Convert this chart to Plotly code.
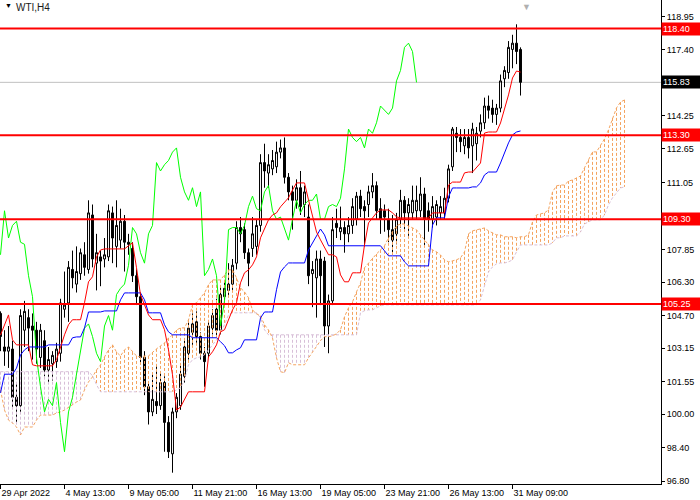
import plotly.graph_objects as go

# WTI H4 with Ichimoku (bar index = H4 bar number)

tick_bars = [0, 16, 32, 48, 64, 80, 96, 112, 128]
tick_text = ["29 Apr 2022", "4 May 13:00", "9 May 05:00", "11 May 21:00", "16 May 13:00",
             "19 May 05:00", "23 May 21:00", "26 May 13:00", "31 May 09:00"]

price_ticks = [118.95, 117.40, 114.25, 112.65, 111.05, 107.85, 106.30,
               104.70, 103.15, 101.55, 100.00, 98.40, 96.80]

levels = [118.40, 113.30, 109.30, 105.25]
last_price = 115.83

opens = [104.8, 103.2, 103.0, 103.1, 100.8, 100.4, 104.0, 104.6, 104.2, 104.0,
         102.7, 103.5, 102.1, 102.4, 102.5, 102.9, 105.0, 105.3, 106.9, 106.2,
         106.7, 107.6, 106.9, 109.5, 107.2, 107.5, 107.4, 107.5, 109.6, 108.0,
         108.3, 109.2, 108.2, 107.9, 106.6, 105.6, 102.7, 101.3, 100.1, 100.6,
         100.4, 101.5, 99.6, 98.1, 100.1, 100.4, 101.8, 102.9, 103.9, 104.4,
         103.7, 102.9, 102.9, 104.1, 105.0, 104.0, 105.6, 105.9, 106.2, 107.2,
         108.9, 108.8, 107.7, 107.9, 108.0, 109.0, 112.0, 111.5, 111.7, 111.8,
         112.5, 112.7, 111.3, 110.6, 110.2, 110.8, 110.0, 109.4, 106.7, 106.5,
         107.4, 107.3, 104.2, 105.4, 109.1, 108.7, 108.9, 108.6, 109.0, 109.3,
         110.4, 109.9, 110.0, 110.6, 110.9, 109.8, 109.7, 109.3, 108.8, 108.6,
         109.3, 110.2, 109.6, 109.6, 109.7, 109.7, 110.5, 109.7, 109.3, 109.4,
         109.6, 109.6, 110.3, 111.8, 113.4, 113.2, 112.8, 113.2, 112.8, 112.9,
         113.5, 113.9, 114.7, 114.6, 114.3, 114.6, 116.0, 116.3, 117.4, 117.7,
         117.4]
highs = [104.9, 104.0, 104.2, 103.5, 101.5, 105.0, 105.4, 105.0, 104.8, 104.4,
         104.3, 104.0, 103.2, 103.0, 103.4, 105.5, 106.8, 107.3, 107.8, 108.0,
         107.9, 108.2, 110.2, 110.0, 108.6, 107.8, 108.4, 110.0, 109.9, 110.2,
         109.8, 109.5, 108.6, 108.2, 106.9, 105.8, 103.0, 101.5, 102.0, 102.3,
         102.0, 101.8, 99.9, 100.3, 101.0, 102.3, 103.5, 104.5, 104.8, 104.9,
         103.9, 103.2, 104.4, 105.0, 105.5, 106.1, 106.4, 107.2, 107.4, 109.2,
         109.4, 109.1, 107.9, 109.4, 109.3, 112.4, 112.9, 112.4, 112.6, 113.0,
         113.1, 113.2, 111.5, 110.9, 111.2, 111.6, 110.9, 110.0, 107.3, 107.8,
         107.8, 107.5, 105.7, 109.4, 109.8, 109.9, 109.2, 109.4, 110.3, 110.6,
         110.7, 110.2, 110.9, 111.5, 111.1, 110.3, 110.0, 109.8, 109.5, 109.6,
         110.7, 110.4, 110.3, 110.9, 110.9, 111.3, 110.8, 110.1, 110.4, 110.2,
         110.4, 110.8, 111.9, 113.7, 113.7, 113.6, 113.6, 113.6, 113.9, 113.7,
         114.3, 115.1, 115.2, 115.0, 114.8, 116.2, 116.6, 117.8, 118.1, 118.6,
         117.5]
lows = [103.0, 102.3, 102.2, 100.3, 99.6, 100.1, 103.2, 103.0, 102.6, 102.4,
        102.2, 101.8, 101.5, 101.6, 102.2, 102.5, 104.6, 104.4, 106.0, 105.8,
        106.4, 106.6, 106.7, 107.0, 105.9, 106.1, 107.0, 107.3, 107.2, 107.0,
        107.9, 106.8, 107.6, 106.3, 105.2, 102.4, 100.9, 99.5, 99.9, 100.0,
        100.2, 98.2, 97.9, 97.2, 99.8, 100.2, 101.5, 102.6, 103.3, 103.4,
        102.6, 101.3, 102.7, 103.8, 103.7, 103.8, 105.3, 105.6, 105.9, 106.9,
        108.2, 107.4, 106.1, 107.5, 107.6, 108.7, 110.8, 110.8, 111.4, 111.5,
        112.2, 111.0, 110.2, 108.8, 109.8, 109.5, 109.4, 106.2, 105.1, 104.6,
        105.2, 103.2, 102.9, 105.2, 108.4, 108.3, 107.7, 108.2, 108.6, 109.0,
        109.4, 108.0, 109.4, 110.3, 109.3, 108.6, 108.7, 108.2, 107.6, 108.1,
        108.9, 108.8, 108.5, 109.3, 109.3, 109.4, 108.0, 108.7, 108.9, 109.0,
        109.3, 109.3, 110.1, 111.6, 112.5, 112.5, 112.4, 112.2, 111.5, 112.1,
        113.2, 113.6, 114.1, 113.9, 113.8, 114.4, 115.6, 116.0, 116.5, 116.7,
        115.2]
closes = [103.7, 103.0, 103.2, 100.8, 100.4, 104.7, 104.9, 104.1, 104.0, 103.1,
          104.0, 102.1, 102.6, 102.8, 103.1, 105.3, 105.2, 107.0, 106.5, 106.8,
          107.7, 107.0, 109.6, 107.4, 107.7, 107.3, 107.6, 109.7, 108.4, 109.0,
          109.2, 108.2, 108.1, 106.6, 105.6, 102.7, 101.3, 100.1, 100.7, 100.4,
          101.5, 99.6, 98.2, 100.1, 100.8, 101.9, 103.2, 104.1, 104.3, 103.7,
          102.9, 102.5, 104.2, 104.7, 104.0, 105.7, 106.0, 106.2, 107.1, 108.9,
          108.6, 107.7, 107.2, 108.6, 109.0, 112.0, 111.6, 111.9, 112.1, 112.5,
          112.7, 111.3, 110.6, 110.2, 110.8, 109.9, 110.6, 106.6, 106.9, 107.4,
          106.6, 104.2, 105.4, 108.8, 108.9, 108.9, 108.6, 109.0, 109.9, 110.4,
          109.8, 109.7, 110.6, 110.9, 109.7, 109.3, 109.4, 108.8, 108.3, 109.3,
          110.2, 109.6, 110.0, 110.2, 110.2, 110.5, 109.3, 109.3, 109.9, 110.0,
          109.9, 110.3, 111.7, 113.6, 113.2, 113.0, 113.2, 112.7, 113.6, 113.4,
          113.9, 114.7, 114.5, 114.3, 114.6, 115.9, 116.4, 117.5, 117.7, 117.3,
          115.83]

# Tenkan-sen (red) and Kijun-sen (blue), one value per bar
tenkan = [103.77, 104.25, 104.73, 103.54, 103.3, 103.3, 103.3, 103.3, 102.35, 102.3,
          102.3, 102.3, 102.3, 102.3, 102.59, 103.21, 103.78, 104.26, 104.5, 104.5,
          104.5, 105.31, 106.31, 106.55, 107.5, 107.83, 107.88, 107.88, 107.88, 107.88,
          107.88, 107.88, 108.03, 108.17, 106.98, 105.69, 105.21, 104.73, 104.5, 104.5,
          104.5, 104.02, 103.06, 101.87, 100.19, 100.33, 100.67, 101.06, 101.06, 101.06,
          101.06, 101.06, 102.73, 102.97, 103.3, 103.92, 104.02, 104.49, 104.97, 105.31,
          106.26, 106.74, 106.88, 107.12, 107.5, 108.41, 108.83, 109.27, 109.5, 109.6,
          109.89, 110.08, 110.32, 110.69, 111.03, 111.03, 111.03, 110.22, 109.5, 108.69,
          108.31, 107.98, 107.6, 107.6, 107.5, 106.64, 106.31, 106.31, 106.74, 106.74,
          106.74, 108.07, 109.12, 109.36, 109.6, 109.74, 109.74, 109.74, 109.6, 109.41,
          109.36, 109.36, 109.36, 109.36, 109.36, 109.36, 109.36, 109.36, 109.6, 109.6,
          109.6, 109.6, 110.93, 111.07, 111.07, 111.07, 111.51, 111.55, 111.55, 111.74,
          111.98, 113.41, 113.46, 113.46, 113.46, 113.89, 114.51, 115.23, 116.04, 116.37,
          116.32]
kijun = [101.01, 101.9, 101.9, 101.9, 102.19, 102.82, 103.06, 103.2, 103.2, 103.2,
         103.2, 103.2, 103.3, 103.3, 103.3, 103.3, 103.3, 103.3, 103.64, 103.68,
         103.68, 104.11, 104.87, 104.87, 104.87, 104.87, 104.92, 104.92, 104.92, 104.92,
         105.45, 105.78, 105.78, 105.78, 105.78, 105.78, 105.45, 104.83, 104.83, 104.83,
         104.83, 104.26, 103.92, 103.78, 103.78, 103.78, 103.78, 103.78, 103.64, 103.64,
         103.64, 103.64, 103.64, 103.64, 103.64, 103.45, 103.26, 102.92, 102.92, 103.06,
         103.16, 103.54, 103.54, 103.54, 103.54, 104.59, 104.87, 104.87, 104.87, 105.93,
         106.78, 107.02, 107.21, 107.21, 107.21, 107.21, 107.21, 107.83, 108.17, 108.45,
         108.83, 108.55, 108.03, 108.03, 108.03, 108.03, 108.03, 108.03, 108.03, 108.03,
         108.03, 108.03, 108.03, 108.03, 108.03, 108.03, 107.79, 107.55, 107.55, 107.55,
         107.55, 107.26, 107.07, 107.07, 107.07, 107.07, 107.07, 107.07, 109.02, 109.36,
         109.36, 109.36, 110.36, 110.79, 110.79, 110.79, 110.79, 110.79, 110.84, 110.84,
         111.03, 111.41, 111.55, 111.55, 111.55, 111.98, 112.51, 112.94, 113.32, 113.46,
         113.51]

# Senkou span A and B, bars 0..156 (cloud runs 26 bars past the last candle)
span_a = [101.15, 100.19, 99.71, 99.57, 99.38, 99.0, 99.38, 99.38, 99.38, 99.71,
          99.95, 99.95, 99.95, 99.95, 100.05, 100.1, 100.19, 100.33, 100.43, 100.57,
          100.67, 101.15, 101.53, 101.77, 102.1, 102.34, 102.72, 103.06, 103.3, 102.96,
          102.77, 103.06, 103.2, 102.96, 102.77, 102.72, 102.77, 102.77, 102.96, 103.11,
          103.25, 103.39, 103.63, 103.77, 104.01, 104.11, 104.11, 104.49, 105.21, 105.31,
          105.55, 105.78, 106.17, 106.4, 106.4, 106.4, 106.64, 106.88, 106.88, 106.5,
          106.02, 105.83, 105.55, 104.97, 104.78, 104.69, 104.26, 104.01, 103.63, 102.68,
          102.02, 101.97, 102.45, 102.35, 102.35, 102.35, 102.35, 102.68, 102.97, 103.26,
          103.5, 103.69, 103.69, 103.73, 103.83, 104.02, 104.64, 105.07, 105.35, 105.83,
          106.26, 106.98, 107.21, 107.45, 107.64, 107.83, 108.03, 108.41, 108.69, 108.98,
          109.07, 109.07, 108.98, 108.88, 108.79, 108.55, 108.31, 108.12, 107.83, 107.74,
          107.59, 107.36, 107.26, 107.31, 107.36, 107.45, 107.74, 108.6, 108.74, 108.79,
          108.84, 108.88, 108.74, 108.65, 108.55, 108.55, 108.46, 108.46, 108.46, 108.41,
          108.46, 108.46, 108.55, 109.17, 109.5, 109.55, 109.6, 109.74, 110.6, 110.89,
          110.93, 110.93, 111.12, 111.17, 111.27, 111.36, 111.75, 112.13, 112.51, 112.51,
          112.84, 113.13, 113.56, 114.13, 114.61, 114.89, 114.99]
span_b = [102.02, 102.02, 102.02, 102.02, 102.02, 102.02, 102.02, 102.02, 102.02, 102.02,
          102.02, 102.02, 102.02, 102.02, 102.02, 102.02, 102.02, 102.02, 102.02, 102.02,
          102.02, 102.02, 102.02, 101.83, 101.4, 101.06, 101.06, 101.06, 101.06, 101.06,
          101.06, 101.06, 101.06, 101.06, 101.06, 101.06, 101.06, 101.06, 101.06, 101.06,
          101.06, 101.06, 101.06, 101.06, 101.15, 101.25, 101.63, 102.35, 102.59, 102.68,
          102.73, 102.83, 103.06, 103.3, 103.54, 103.88, 104.26, 104.74, 104.83, 104.83,
          104.83, 104.83, 104.83, 104.83, 104.83, 104.59, 104.02, 103.78, 103.78, 103.78,
          103.78, 103.78, 103.78, 103.78, 103.78, 103.78, 103.78, 103.78, 103.78, 103.78,
          103.78, 103.78, 103.78, 103.78, 103.78, 103.78, 103.78, 103.78, 103.78, 103.78,
          104.83, 104.93, 104.97, 104.97, 105.07, 105.16, 105.21, 105.21, 105.21, 105.21,
          105.21, 105.21, 105.21, 105.21, 105.21, 105.21, 105.21, 105.21, 105.21, 105.21,
          105.21, 105.21, 105.21, 105.21, 105.21, 105.21, 105.21, 105.21, 105.21, 105.21,
          105.45, 106.17, 106.78, 107.02, 107.17, 107.21, 107.21, 107.26, 107.36, 107.74,
          108.07, 108.07, 108.07, 108.07, 108.07, 108.07, 108.07, 108.07, 108.17, 108.41,
          108.41, 108.5, 108.5, 108.5, 108.5, 108.69, 109.07, 109.17, 109.27, 109.27,
          109.27, 109.5, 109.98, 110.32, 110.55, 110.79, 110.84]

bars = list(range(len(closes)))
cloud_bars = list(range(len(span_a)))
# chikou span = closes drawn 26 bars back
chikou_bars = bars[:len(closes) - 26]
chikou = closes[26:]

ORANGE = "#F4A460"
THISTLE = "#D8BFD8"
DOTS = "3px,2px"
FONT = "Liberation Sans, Arial, sans-serif"

fig = go.Figure()

fig.add_trace(go.Candlestick(
    x=bars, open=opens, high=highs, low=lows, close=closes,
    increasing=dict(line=dict(color="black", width=1), fillcolor="white"),
    decreasing=dict(line=dict(color="black", width=1), fillcolor="black"),
    whiskerwidth=0, hoverinfo="skip", showlegend=False,
))

# cloud hatching: one dotted vertical stroke per bar between the spans
up_x, up_y, dn_x, dn_y = [], [], [], []
for i, a, b in zip(cloud_bars, span_a, span_b):
    if a >= b:
        up_x += [i, i, None]
        up_y += [a, b, None]
    else:
        dn_x += [i, i, None]
        dn_y += [b, a, None]

fig.add_trace(go.Scatter(x=up_x, y=up_y, mode="lines", hoverinfo="skip", showlegend=False,
                         line=dict(color=ORANGE, width=1, dash=DOTS)))
fig.add_trace(go.Scatter(x=dn_x, y=dn_y, mode="lines", hoverinfo="skip", showlegend=False,
                         line=dict(color=THISTLE, width=1, dash=DOTS)))
fig.add_trace(go.Scatter(x=cloud_bars, y=span_b, mode="lines", hoverinfo="skip", showlegend=False,
                         line=dict(color=THISTLE, width=1, dash=DOTS)))
fig.add_trace(go.Scatter(x=cloud_bars, y=span_a, mode="lines", hoverinfo="skip", showlegend=False,
                         line=dict(color=ORANGE, width=1, dash=DOTS)))

fig.add_trace(go.Scatter(x=chikou_bars, y=chikou, mode="lines", hoverinfo="skip", showlegend=False,
                         line=dict(color="#00FF00", width=1)))
fig.add_trace(go.Scatter(x=bars, y=kijun, mode="lines", hoverinfo="skip", showlegend=False,
                         line=dict(color="#0000FF", width=1)))
fig.add_trace(go.Scatter(x=bars, y=tenkan, mode="lines", hoverinfo="skip", showlegend=False,
                         line=dict(color="#FF0000", width=1)))

# current bid line and the horizontal levels
fig.add_hline(y=last_price, line=dict(color="#C0C0C0", width=1), layer="below")
for lvl in levels:
    fig.add_hline(y=lvl, line=dict(color="#FF0000", width=2), layer="above")

# price tags on the right scale
for lvl in levels:
    fig.add_annotation(x=1, xref="paper", y=lvl, yref="y", xanchor="left", yanchor="middle",
                       text=f"{lvl:.2f}", showarrow=False, bgcolor="#FF0000", width=36, height=10,
                       align="left", borderpad=1, font=dict(family=FONT, size=9, color="white"))
fig.add_annotation(x=1, xref="paper", y=last_price, yref="y", xanchor="left", yanchor="middle",
                   text=f"{last_price:.2f}", showarrow=False, bgcolor="black", width=36, height=10,
                   align="left", borderpad=1, font=dict(family=FONT, size=9, color="white"))

# chart title and the shift marker
fig.add_annotation(x=0.004, xref="paper", y=0.999, yref="paper", xanchor="left", yanchor="top",
                   text="▼", showarrow=False, font=dict(family=FONT, size=7, color="black"))
fig.add_annotation(x=0.021, xref="paper", y=1.0, yref="paper", xanchor="left", yanchor="top",
                   text="WTI,H4", showarrow=False, font=dict(family=FONT, size=10, color="#1a1a1a"))
fig.add_annotation(x=131.5, xref="x", y=1.0, yref="paper", xanchor="center", yanchor="top",
                   text="▼", showarrow=False, font=dict(family=FONT, size=9, color="#B0B0B0"))

fig.update_layout(
    width=700, height=500,
    margin=dict(l=0, r=39, t=0, b=16),
    paper_bgcolor="white", plot_bgcolor="white",
    font=dict(family=FONT, size=9, color="black"),
    showlegend=False,
)
fig.update_xaxes(
    range=[-0.125, 165.125], rangeslider_visible=False,
    tickvals=tick_bars, ticktext=tick_text, ticklabelposition="outside right",
    ticks="outside", ticklen=4, tickcolor="black",
    showline=True, linecolor="black", linewidth=1,
    showgrid=False, zeroline=False, automargin=False,
)
fig.update_yaxes(
    range=[96.66, 119.76], side="right",
    tickvals=price_ticks, ticktext=[f"{p:.2f}" for p in price_ticks],
    ticks="outside", ticklen=3, tickcolor="black",
    showline=True, linecolor="black", linewidth=1,
    showgrid=False, zeroline=False, automargin=False,
)

# the page's default 8px body margin would push the chart off the window
fig.write_html("out.html", config={"displayModeBar": False},
               post_script="document.body.style.margin = '0';")
